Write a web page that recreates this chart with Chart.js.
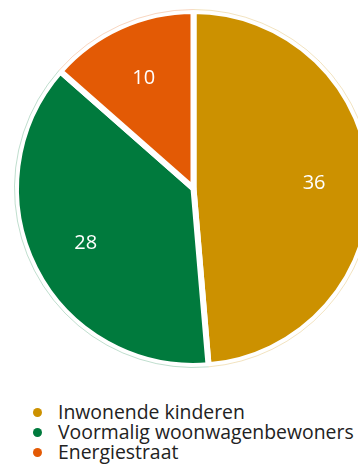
<!DOCTYPE html>
<html>
<head>
<meta charset="utf-8">
<script src="https://cdn.jsdelivr.net/npm/chart.js@4/dist/chart.umd.min.js"></script>
<style>
  html, body { margin: 0; padding: 0; background: #fff; overflow: hidden; width: 358px; height: 465px; }
  #wrap { position: absolute; left: 0; top: 0; width: 387px; height: 377px; }
  #legend { position: absolute; left: 33px; top: 402px; font-family: "Open Sans", sans-serif; font-size: 19.4px; line-height: 20px; color: #222; }
  .row { display: flex; align-items: center; white-space: nowrap; }
  .dot { width: 9px; height: 9px; border-radius: 50%; margin-right: 16px; box-shadow: 0 0 0 1px #fff; }
</style>
</head>
<body>
<div id="wrap"><canvas id="pie" width="387" height="377"></canvas></div>
<div id="legend"></div>
<script>
const labels = ["Inwonende kinderen", "Voormalig woonwagenbewoners", "Energiestraat"];
const values = [36, 28, 10];
const colors = ["#cc9100", "#007a3d", "#e35a05"];

// legende in html
const legendEl = document.getElementById("legend");
labels.forEach((lab, i) => {
  const row = document.createElement("div");
  row.className = "row";
  const dot = document.createElement("span");
  dot.className = "dot";
  dot.style.background = colors[i];
  row.appendChild(dot);
  row.appendChild(document.createTextNode(lab));
  legendEl.appendChild(row);
});

// dunne lichte rand om de taart + getallen in de punten
const valueLabels = {
  id: "valueLabels",
  afterDatasetsDraw(chart) {
    const ctx = chart.ctx;
    const meta = chart.getDatasetMeta(0);
    ctx.save();
    meta.data.forEach((arc, i) => {
      const p = arc.getProps(["x", "y", "startAngle", "endAngle", "outerRadius"], true);
      ctx.beginPath();
      ctx.arc(p.x, p.y, p.outerRadius + 1.5, p.startAngle, p.endAngle);
      ctx.strokeStyle = colors[i] + "40";
      ctx.lineWidth = 1;
      ctx.stroke();
    });
    ctx.fillStyle = "#fff";
    ctx.font = '20px "Open Sans", sans-serif';
    ctx.textAlign = "center";
    ctx.textBaseline = "middle";
    meta.data.forEach((arc, i) => {
      const p = arc.getProps(["x", "y", "startAngle", "endAngle", "outerRadius"], true);
      const mid = (p.startAngle + p.endAngle) / 2;
      const d = p.outerRadius * 0.68;
      ctx.fillText(String(values[i]), p.x + Math.cos(mid) * d, p.y + Math.sin(mid) * d);
    });
    ctx.restore();
  }
};

const pieChart = new Chart(document.getElementById("pie"), {
  type: "pie",
  data: {
    labels: labels,
    datasets: [{
      data: values,
      backgroundColor: colors,
      borderColor: "#fff",
      borderWidth: 6,
      hoverOffset: 0
    }]
  },
  options: {
    responsive: false,
    animation: false,
    radius: 177.5,
    layout: { padding: 0 },
    plugins: {
      legend: { display: false },
      tooltip: { enabled: false }
    }
  },
  plugins: [valueLabels]
});
</script>
</body>
</html>
